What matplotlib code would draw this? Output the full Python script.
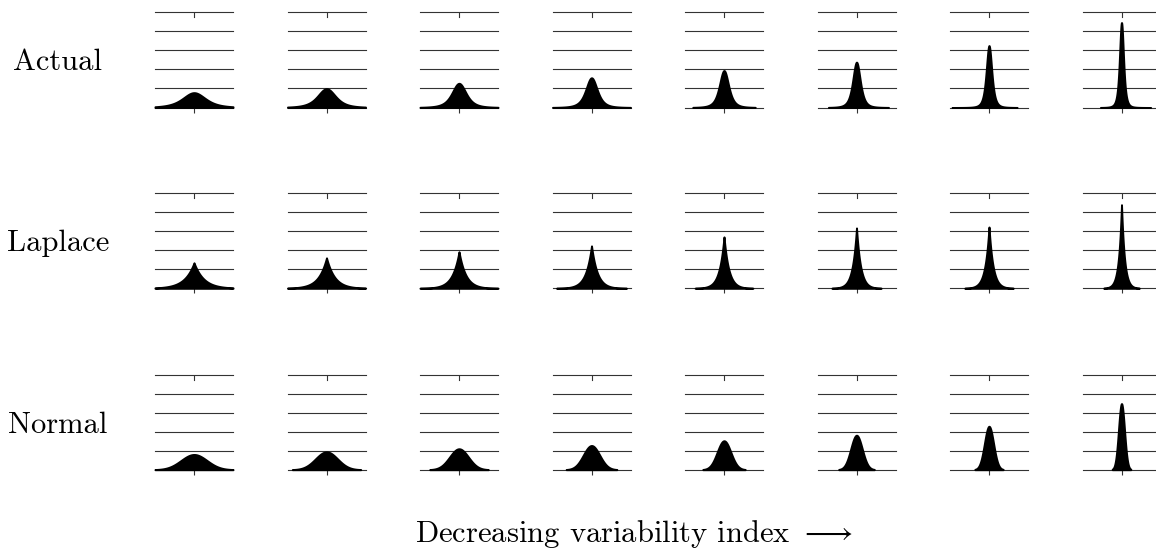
import math
import numpy as np
import matplotlib
matplotlib.use("Agg")
import matplotlib.pyplot as plt

plt.rcParams['font.family'] = ['cmr10']
plt.rcParams['mathtext.fontset'] = 'cm'
plt.rcParams['axes.unicode_minus'] = False

row_names = ['Actual', 'Laplace', 'Normal']

# peak density of each panel (grid lines are 1 unit apart), left to right
actual_peak = [0.78, 0.99, 1.27, 1.56, 1.94, 2.38, 3.25, 4.46]
laplace_peak = [1.34, 1.60, 1.92, 2.23, 2.70, 3.17, 3.22, 4.39]
normal_peak = [0.80, 0.94, 1.10, 1.27, 1.52, 1.81, 2.28, 3.47]

# x extent of the estimated (actual) densities
actual_lo = [-1.5, -1.5, -1.5, -1.5, -1.20, -1.08, -1.42, -0.81]
actual_hi = [1.5, 1.5, 1.5, 1.5, 1.20, 1.23, 1.08, 1.12]

XMAX = 1.5
W, H = 1156, 548


def grid(lo, hi):
    x = np.linspace(max(lo, -XMAX), min(hi, XMAX), 801)
    return np.union1d(x, [0.0])


def actual_curve(p, lo, hi):
    nu = 3.0
    c = math.gamma((nu + 1) / 2) / (math.sqrt(nu * math.pi) * math.gamma(nu / 2))
    s = c / p
    x = grid(lo, hi)
    return x, p * (1 + (x / s) ** 2 / nu) ** (-(nu + 1) / 2)


def laplace_curve(p):
    b = 1 / (2 * p)
    x = grid(-6 * b, 6 * b)
    return x, p * np.exp(-np.abs(x) / b)


def normal_curve(p):
    sd = 1 / (p * math.sqrt(2 * math.pi))
    x = grid(-3.1 * sd, 3.1 * sd)
    return x, p * np.exp(-x ** 2 / (2 * sd ** 2))


fig = plt.figure(figsize=(W / 100, H / 100), dpi=100)

row_bottom = [107.5, 288.3, 469.7]   # pixel row of y=0 line
panel_h = 95.2
panel_w = 78
col_left = [155 + 132.5 * i for i in range(8)]

for r in range(3):
    for c in range(8):
        ax = fig.add_axes([col_left[c] / W, 1 - row_bottom[r] / H,
                           panel_w / W, panel_h / H])
        for yv in range(6):
            ax.axhline(yv, color='0.2', lw=0.8, zorder=1, clip_on=False)
        if r == 0:
            x, y = actual_curve(actual_peak[c], actual_lo[c], actual_hi[c])
        elif r == 1:
            x, y = laplace_curve(laplace_peak[c])
        else:
            x, y = normal_curve(normal_peak[c])
        ax.fill_between(x, y, 0, facecolor='black', edgecolor='black',
                        lw=1.4, joinstyle='round', zorder=2, clip_on=False)
        ax.axvline(0, ymin=1 - 5 / panel_h, ymax=1, color='0.2', lw=0.8)
        ax.set_xlim(-XMAX, XMAX)
        ax.set_ylim(0, 5)
        ax.set_xticks([0])
        ax.set_yticks([])
        ax.tick_params(axis='x', direction='out', length=3.6, width=0.8,
                       color='0.2', labelbottom=False)
        for sp in ax.spines.values():
            sp.set_visible(False)

    fig.text(58 / W, 1 - (row_bottom[r] - 37) / H, row_names[r],
             ha='center', va='baseline', fontsize=22)

fig.text(415 / W, 1 - 542 / H, r'Decreasing variability index $\longrightarrow$',
         ha='left', va='baseline', fontsize=22)

fig.savefig('out.png', dpi=100)
